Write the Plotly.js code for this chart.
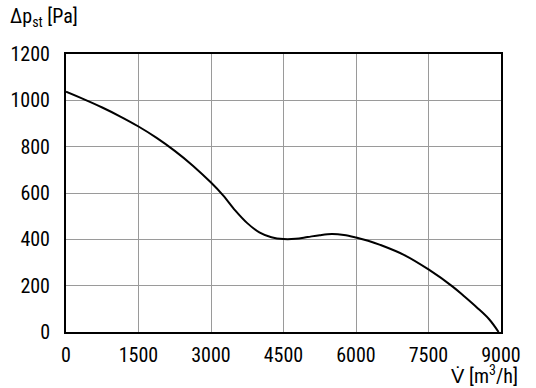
<!DOCTYPE html>
<html>
<head>
<meta charset="utf-8">
<script src="https://cdn.plot.ly/plotly-3.0.1.min.js"></script>
<style>html,body{margin:0;padding:0;background:#fff;}#chart{width:536px;height:388px;}</style>
</head>
<body>
<div id="chart"></div>
<script>
var flowRate = [0, 375, 750, 1125, 1500, 1875, 2250, 2625, 3000, 3250, 3500, 3750, 4000, 4250, 4500, 4750, 5000, 5250, 5500, 5750, 6000, 6250, 6500, 7000, 7500, 8000, 8250, 8500, 8750, 8950];
var staticPressure = [1037, 1004, 969, 930, 887, 838, 782, 718, 645, 590, 525, 470, 430, 409, 401, 402, 410, 418, 423, 419, 408, 394, 376, 332, 270, 196, 152, 106, 56, 0];
var xTicks = [0, 1500, 3000, 4500, 6000, 7500, 9000];
var yTicks = [0, 200, 400, 600, 800, 1000, 1200];

var FONT = '"Liberation Sans Narrow", "Arial Narrow", "Roboto Condensed", Roboto, sans-serif';

var trace = {
  x: flowRate,
  y: staticPressure,
  type: 'scatter',
  mode: 'lines',
  line: {color: '#000', width: 2, shape: 'spline', smoothing: 1},
  hoverinfo: 'skip'
};

var layout = {
  width: 536, height: 388,
  margin: {l: 66, r: 35, t: 54, b: 56},
  paper_bgcolor: '#fff', plot_bgcolor: '#fff',
  showlegend: false,
  font: {family: FONT, size: 20, color: '#000'},
  xaxis: {
    range: [0, 9000], tickvals: xTicks, ticktext: xTicks.map(String),
    showgrid: true, gridcolor: '#9a9a9a', gridwidth: 1,
    showline: true, linecolor: '#000', linewidth: 2, mirror: true,
    zeroline: false, ticks: '', ticklabelstandoff: 4,
    tickfont: {family: FONT, size: 20, color: '#000'}
  },
  yaxis: {
    range: [0, 1200], tickvals: yTicks, ticktext: yTicks.map(String),
    showgrid: true, gridcolor: '#9a9a9a', gridwidth: 1,
    showline: true, linecolor: '#000', linewidth: 2, mirror: true,
    zeroline: false, ticks: '', ticklabelstandoff: 10,
    tickfont: {family: FONT, size: 20, color: '#000'}
  },
  annotations: [
    {text: 'Δp<sub>st</sub> [Pa]', xref: 'paper', yref: 'paper', x: 0, y: 1,
     xshift: -58, yshift: 22, xanchor: 'left', yanchor: 'bottom', showarrow: false,
     font: {family: FONT, size: 20, color: '#000'}},
    {text: 'V̇ [m<sup>3</sup>/h]', xref: 'paper', yref: 'paper', x: 1, y: 0,
     xshift: 19, yshift: -28, xanchor: 'right', yanchor: 'top', showarrow: false,
     font: {family: FONT, size: 20, color: '#000'}}
  ]
};

Plotly.newPlot('chart', [trace], layout, {displayModeBar: false, staticPlot: true});
</script>
</body>
</html>
